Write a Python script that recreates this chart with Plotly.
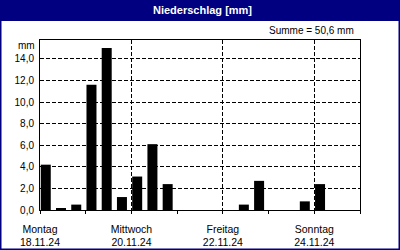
import plotly.graph_objects as go
import pandas as pd

# 8-hour precipitation periods (start times) and amounts in mm
period_starts = pd.date_range("2024-11-18 00:00", periods=21, freq="8h")
precip_mm = [4.2, 0.1, 0.5, 11.6, 15.0, 1.2, 3.1, 6.1, 2.4,
             0.0, 0.0, 0.0, 0.0, 0.5, 2.7, 0.0, 0.0, 0.8, 2.4,
             0.0, 0.0]

day_ticks = ["2024-11-18", "2024-11-20", "2024-11-22", "2024-11-24"]
day_names = ["Montag", "Mittwoch", "Freitag", "Sonntag"]
day_dates = ["18.11.24", "20.11.24", "22.11.24", "24.11.24"]
y_ticks = [0, 2, 4, 6, 8, 10, 12, 14]

title_text = "Niederschlag [mm]"
unit_text = "mm"
total = sum(precip_mm)
sum_text = "Summe = " + f"{total:.1f}".replace(".", ",") + " mm"

W, H = 400, 250
L, R, T, B = 40, 360, 40, 210
HOUR = 3600 * 1000

def px_x(p):
    return (p - L) / (R - L)

def px_y(p):
    return (B - p) / (B - T)

FONT = "Liberation Sans, Arial, sans-serif"
NAVY = "#000080"

fig = go.Figure()
fig.add_trace(go.Bar(
    x=period_starts,
    y=precip_mm,
    width=5.25 * HOUR,
    offset=0.4 * HOUR,
    marker=dict(color="black", line=dict(width=0)),
    hoverinfo="skip",
))

fig.update_layout(
    width=W, height=H,
    margin=dict(l=L, r=W - R, t=T, b=H - B),
    paper_bgcolor="white",
    plot_bgcolor="white",
    showlegend=False,
    separators=",.",
    font=dict(family=FONT, size=10, color="black"),
    xaxis=dict(
        type="date",
        automargin=False,
        range=["2024-11-18 00:00", "2024-11-25 00:00"],
        tickmode="array",
        tickvals=day_ticks,
        ticktext=[f"{n}<br>{d}" for n, d in zip(day_names, day_dates)],
        ticks="outside", ticklen=3, tickcolor="black", tickwidth=1,
        ticklabelstandoff=6,
        showgrid=True, gridcolor="black", gridwidth=1, griddash="4px,2px",
        showline=True, linecolor="black", linewidth=1, mirror=True,
        zeroline=False,
        tickfont=dict(family=FONT, size=10.5, color="black"),
        minor=dict(dtick=24 * HOUR, tick0="2024-11-18", ticks="outside",
                   ticklen=3, tickcolor="black", showgrid=False),
        fixedrange=True,
    ),
    yaxis=dict(
        automargin=False,
        range=[0, 15.75],
        tickmode="array",
        tickvals=y_ticks,
        tickformat=".1f",
        ticks="", ticklabelstandoff=3,
        showgrid=True, gridcolor="black", gridwidth=1, griddash="4px,2px",
        showline=True, linecolor="black", linewidth=1, mirror=True,
        zeroline=False,
        tickfont=dict(family=FONT, size=10, color="black"),
        fixedrange=True,
    ),
    shapes=[
        dict(type="rect", xref="paper", yref="paper", layer="below",
             x0=px_x(0), x1=px_x(W), y0=px_y(21), y1=px_y(0),
             fillcolor=NAVY, line=dict(width=0)),
        dict(type="rect", xref="paper", yref="paper", layer="above",
             x0=px_x(0.75), x1=px_x(W - 0.75), y0=px_y(H - 0.75), y1=px_y(0.75),
             fillcolor="rgba(0,0,0,0)", line=dict(color=NAVY, width=1.5)),
    ],
    annotations=[
        dict(text=f"<b>{title_text}</b>", xref="paper", yref="paper",
             x=px_x(W / 2 + 2), y=px_y(10.5), xanchor="center", yanchor="middle",
             showarrow=False, font=dict(family=FONT, size=11, color="white")),
        dict(text=sum_text, xref="paper", yref="paper",
             x=px_x(356), y=px_y(31), xanchor="right", yanchor="middle",
             showarrow=False, font=dict(family=FONT, size=10, color="black")),
        dict(text=unit_text, xref="paper", yref="paper",
             x=px_x(37), y=px_y(45), xanchor="right", yanchor="middle",
             showarrow=False, font=dict(family=FONT, size=10, color="black")),
    ],
)

fig.write_html("out.html", config={"displayModeBar": False})
